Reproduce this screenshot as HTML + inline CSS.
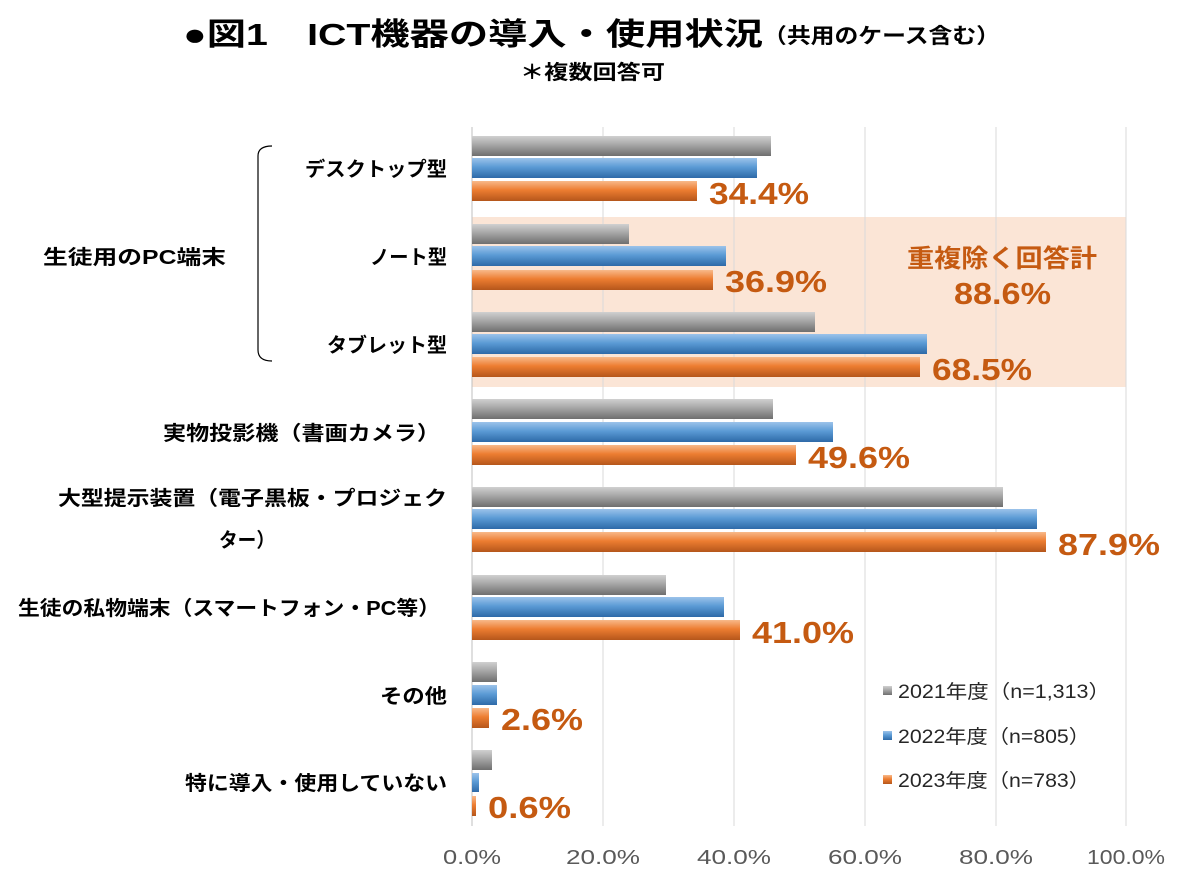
<!DOCTYPE html>
<html><head><meta charset="utf-8"><style>
body{margin:0;background:#fff;font-family:"Liberation Sans","Noto Sans CJK JP",sans-serif;}
</style></head><body>
<svg width="1183" height="880" xmlns="http://www.w3.org/2000/svg" font-family="Liberation Sans, Noto Sans CJK JP, sans-serif">
<defs>
<linearGradient id="g" x1="0" y1="0" x2="0" y2="1"><stop offset="0" stop-color="#d0d0d0"/><stop offset="0.45" stop-color="#a6a6a6"/><stop offset="1" stop-color="#6f6f6f"/></linearGradient>
<linearGradient id="b" x1="0" y1="0" x2="0" y2="1"><stop offset="0" stop-color="#9cc3ea"/><stop offset="0.45" stop-color="#5b9bd5"/><stop offset="1" stop-color="#2e6aa8"/></linearGradient>
<linearGradient id="o" x1="0" y1="0" x2="0" y2="1"><stop offset="0" stop-color="#f8b98a"/><stop offset="0.45" stop-color="#ed7d31"/><stop offset="1" stop-color="#b5561b"/></linearGradient>
</defs>
<rect width="1183" height="880" fill="#fff"/>
<text x="183" y="45" font-size="31" font-weight="bold" textLength="580" lengthAdjust="spacingAndGlyphs">●図1　ICT機器の導入・使用状況</text>
<text x="763" y="43" font-size="21" font-weight="bold" textLength="237" lengthAdjust="spacingAndGlyphs">（共用のケース含む）</text>
<text x="520" y="79" font-size="20" font-weight="bold" textLength="145" lengthAdjust="spacingAndGlyphs">＊複数回答可</text>
<rect x="472" y="217" width="654" height="170" fill="#fbe5d6"/>
<g stroke="#d9d9d9" stroke-width="1">
<line x1="603" y1="127" x2="603" y2="826"/><line x1="734" y1="127" x2="734" y2="826"/><line x1="865" y1="127" x2="865" y2="826"/><line x1="996" y1="127" x2="996" y2="826"/><line x1="1126" y1="127" x2="1126" y2="826"/>
</g>
<line x1="472" y1="127" x2="472" y2="826" stroke="#bfbfbf"/>
<g>
<rect x="472" y="136" width="299" height="20" fill="url(#g)"/><rect x="472" y="158" width="285" height="20" fill="url(#b)"/><rect x="472" y="181" width="225" height="20" fill="url(#o)"/>
<rect x="472" y="224" width="157" height="20" fill="url(#g)"/><rect x="472" y="246" width="254" height="20" fill="url(#b)"/><rect x="472" y="270" width="241" height="20" fill="url(#o)"/>
<rect x="472" y="312" width="343" height="20" fill="url(#g)"/><rect x="472" y="334" width="455" height="20" fill="url(#b)"/><rect x="472" y="357" width="448" height="20" fill="url(#o)"/>
<rect x="472" y="399" width="301" height="20" fill="url(#g)"/><rect x="472" y="422" width="361" height="20" fill="url(#b)"/><rect x="472" y="445" width="324" height="20" fill="url(#o)"/>
<rect x="472" y="487" width="531" height="20" fill="url(#g)"/><rect x="472" y="509" width="565" height="20" fill="url(#b)"/><rect x="472" y="532" width="574" height="20" fill="url(#o)"/>
<rect x="472" y="575" width="194" height="20" fill="url(#g)"/><rect x="472" y="597" width="252" height="20" fill="url(#b)"/><rect x="472" y="620" width="268" height="20" fill="url(#o)"/>
<rect x="472" y="662" width="25" height="20" fill="url(#g)"/><rect x="472" y="685" width="25" height="20" fill="url(#b)"/><rect x="472" y="708" width="17" height="20" fill="url(#o)"/>
<rect x="472" y="750" width="20" height="20" fill="url(#g)"/><rect x="472" y="773" width="7" height="19" fill="url(#b)"/><rect x="472" y="796" width="4" height="20" fill="url(#o)"/>
</g>
<g fill="#c55a11" font-size="31" font-weight="bold">
<text x="709" y="204" textLength="100" lengthAdjust="spacingAndGlyphs">34.4%</text>
<text x="725" y="292" textLength="102" lengthAdjust="spacingAndGlyphs">36.9%</text>
<text x="932" y="380" textLength="100" lengthAdjust="spacingAndGlyphs">68.5%</text>
<text x="808" y="468" textLength="102" lengthAdjust="spacingAndGlyphs">49.6%</text>
<text x="1058" y="555" textLength="102" lengthAdjust="spacingAndGlyphs">87.9%</text>
<text x="752" y="643" textLength="102" lengthAdjust="spacingAndGlyphs">41.0%</text>
<text x="501" y="730" textLength="82" lengthAdjust="spacingAndGlyphs">2.6%</text>
<text x="488" y="818" textLength="83" lengthAdjust="spacingAndGlyphs">0.6%</text>
<text x="907" y="267" font-size="25" textLength="190" lengthAdjust="spacingAndGlyphs">重複除く回答計</text>
<text x="954" y="304" textLength="97" lengthAdjust="spacingAndGlyphs">88.6%</text>
</g>
<g font-size="20" font-weight="bold">
<text x="305" y="176" textLength="142" lengthAdjust="spacingAndGlyphs">デスクトップ型</text>
<text x="370" y="264" textLength="77" lengthAdjust="spacingAndGlyphs">ノート型</text>
<text x="327" y="352" textLength="120" lengthAdjust="spacingAndGlyphs">タブレット型</text>
<text x="163" y="440" textLength="277" lengthAdjust="spacingAndGlyphs">実物投影機（書画カメラ）</text>
<text x="58" y="505" textLength="389" lengthAdjust="spacingAndGlyphs">大型提示装置（電子黒板・プロジェク</text>
<text x="219" y="547" textLength="56" lengthAdjust="spacingAndGlyphs">ター）</text>
<text x="18" y="615" textLength="422" lengthAdjust="spacingAndGlyphs">生徒の私物端末（スマートフォン・PC等）</text>
<text x="380" y="703" textLength="67" lengthAdjust="spacingAndGlyphs">その他</text>
<text x="185" y="790" textLength="262" lengthAdjust="spacingAndGlyphs">特に導入・使用していない</text>
<text x="43" y="264" textLength="183" lengthAdjust="spacingAndGlyphs">生徒用のPC端末</text>
</g>
<path d="M272 146 Q258 146 258 156 L258 350 Q258 361 272 361" fill="none" stroke="#000" stroke-width="1.2"/>
<g font-size="20" fill="#595959">
<text x="443" y="864" textLength="58" lengthAdjust="spacingAndGlyphs">0.0%</text>
<text x="566" y="864" textLength="74" lengthAdjust="spacingAndGlyphs">20.0%</text>
<text x="697" y="864" textLength="74" lengthAdjust="spacingAndGlyphs">40.0%</text>
<text x="828" y="864" textLength="74" lengthAdjust="spacingAndGlyphs">60.0%</text>
<text x="959" y="864" textLength="74" lengthAdjust="spacingAndGlyphs">80.0%</text>
<text x="1087" y="864" textLength="78" lengthAdjust="spacingAndGlyphs">100.0%</text>
</g>
<g font-size="19" fill="#262626">
<rect x="883" y="686" width="9" height="9" fill="url(#g)"/><text x="898" y="698" textLength="212" lengthAdjust="spacingAndGlyphs">2021年度（n=1,313）</text>
<rect x="883" y="731" width="9" height="9" fill="url(#b)"/><text x="898" y="743" textLength="192" lengthAdjust="spacingAndGlyphs">2022年度（n=805）</text>
<rect x="883" y="775" width="9" height="9" fill="url(#o)"/><text x="898" y="787" textLength="192" lengthAdjust="spacingAndGlyphs">2023年度（n=783）</text>
</g>
</svg>
</body></html>
